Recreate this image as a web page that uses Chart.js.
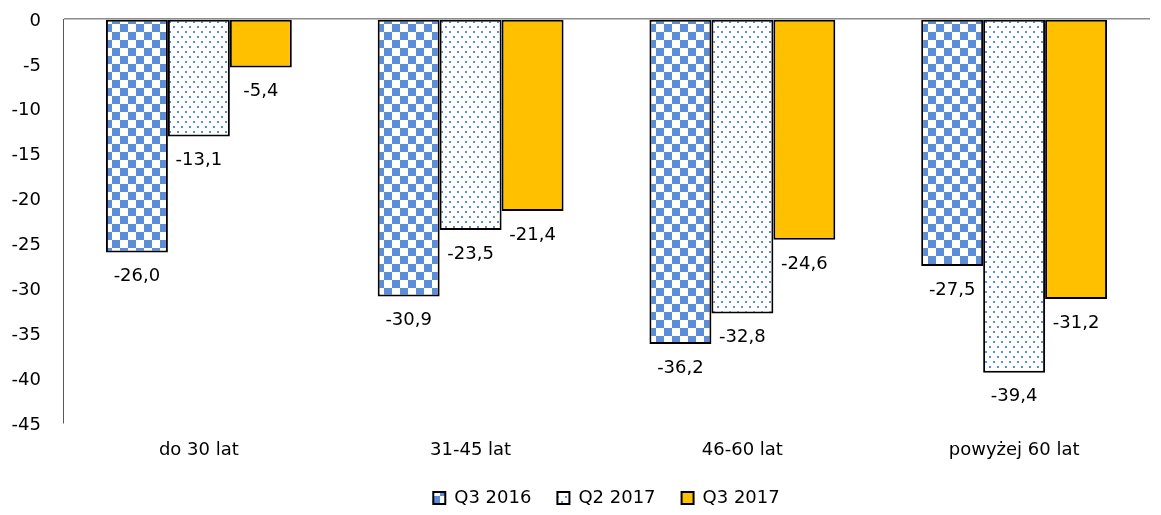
<!DOCTYPE html>
<html>
<head>
<meta charset="utf-8">
<script src="https://cdn.jsdelivr.net/npm/chart.js@4.4.0/dist/chart.umd.min.js"></script>
<style>
html,body{margin:0;padding:0;background:#fff;}
#wrap{width:1161px;height:515px;position:relative;}
</style>
</head>
<body>
<div id="wrap"><canvas id="c" width="1161" height="515"></canvas></div>
<script>
const categories = ['do 30 lat', '31-45 lat', '46-60 lat', 'powyżej 60 lat'];
const seriesNames = ['Q3 2016', 'Q2 2017', 'Q3 2017'];
const q3_2016 = [-26.0, -30.9, -36.2, -27.5];
const q2_2017 = [-13.1, -23.5, -32.8, -39.4];
const q3_2017 = [-5.4, -21.4, -24.6, -31.2];
const yTicks = [0, -5, -10, -15, -20, -25, -30, -35, -40, -45];

const FONT = '"DejaVu Sans", sans-serif';
const BLUE = '#5B8ED7';

function checkerPattern() {
  const c = document.createElement('canvas');
  c.width = 16; c.height = 16;
  const g = c.getContext('2d');
  g.fillStyle = '#fff'; g.fillRect(0, 0, 16, 16);
  g.fillStyle = BLUE;
  g.fillRect(0, 0, 8, 8);
  g.fillRect(8, 8, 8, 8);
  return g.createPattern(c, 'repeat');
}
function dotPattern() {
  const c = document.createElement('canvas');
  c.width = 8; c.height = 10;
  const g = c.getContext('2d');
  g.fillStyle = '#fff'; g.fillRect(0, 0, 8, 10);
  g.fillStyle = '#A9C4EC';
  g.fillRect(0, 0, 4, 4);
  g.fillRect(4, 5, 4, 4);
  g.fillStyle = '#fff';
  g.fillRect(0, 0, 4, 1); g.fillRect(0, 3, 4, 1); g.fillRect(0, 0, 1, 4); g.fillRect(3, 0, 1, 4);
  g.fillRect(4, 5, 4, 1); g.fillRect(4, 8, 4, 1); g.fillRect(4, 5, 1, 4); g.fillRect(7, 5, 1, 4);
  g.fillStyle = BLUE;
  g.fillRect(1, 1, 2, 2);
  g.fillRect(5, 6, 2, 2);
  return g.createPattern(c, 'repeat');
}

const labelPlugin = {
  id: 'barLabels',
  afterDatasetsDraw(chart) {
    const ctx = chart.ctx;
    ctx.save();
    ctx.font = '18px ' + FONT;
    ctx.fillStyle = '#000';
    ctx.textAlign = 'center';
    ctx.textBaseline = 'middle';
    chart.data.datasets.forEach((ds, i) => {
      const meta = chart.getDatasetMeta(i);
      meta.data.forEach((bar, j) => {
        const v = ds.data[j];
        ctx.fillText(v.toFixed(1).replace('.', ','), bar.x, bar.y + 24);
      });
    });
    ctx.restore();
  }
};

// widen the gap between legend entries without changing legend height
const legendSpacing = {
  id: 'legendSpacing',
  beforeDraw(chart) {
    const lg = chart.legend;
    if (!lg || lg._spaced) return;
    const extra = 14;
    const p = lg.options.labels.padding;
    lg.options.labels.padding = p + extra;
    lg.lineWidths = lg.lineWidths.map(w => w + extra * lg.legendItems.length);
    lg.top -= (extra - 2);
    lg._spaced = true;
  }
};

new Chart(document.getElementById('c'), {
  type: 'bar',
  data: {
    labels: categories,
    datasets: [
      { label: seriesNames[0], data: q3_2016, backgroundColor: checkerPattern(), borderColor: '#000', borderWidth: 2, borderSkipped: false },
      { label: seriesNames[1], data: q2_2017, backgroundColor: dotPattern(), borderColor: '#000', borderWidth: 2, borderSkipped: false },
      { label: seriesNames[2], data: q3_2017, backgroundColor: '#FFC000', borderColor: '#000', borderWidth: 2, borderSkipped: false }
    ]
  },
  options: {
    responsive: false,
    animation: false,
    devicePixelRatio: 1,
    layout: { padding: { top: 19, right: 11, left: 0, bottom: 0 } },
    datasets: { bar: { categoryPercentage: 0.684, barPercentage: 1.0 } },
    plugins: {
      legend: {
        position: 'bottom',
        fullSize: false,
        labels: {
          font: { size: 18, family: FONT },
          color: '#000',
          boxWidth: 12,
          boxHeight: 12,
          padding: 12
        }
      },
      tooltip: { enabled: false }
    },
    scales: {
      x: {
        grid: { display: false },
        border: { display: false },
        ticks: { font: { size: 18, family: FONT }, color: '#000', padding: 9 },
        afterFit(s) { s.height = 52; s.paddingLeft = 0; s.paddingRight = 0; }
      },
      y: {
        min: -45,
        max: 0,
        afterBuildTicks(s) { s.ticks = yTicks.map(v => ({ value: v })); },
        grid: {
          drawTicks: false,
          color: (c) => (c.tick && c.tick.value === 0 ? '#8C8C8C' : 'rgba(0,0,0,0)'),
          lineWidth: 1.5
        },
        border: { display: true, color: '#595959', width: 1 },
        ticks: {
          font: { size: 18, family: FONT },
          color: '#000',
          padding: 22,
          labelOffset: 2,
          callback: (v) => String(v)
        },
        afterFit(s) { s.width = 63; s.paddingTop = 0; s.paddingBottom = 0; }
      }
    }
  },
  plugins: [labelPlugin, legendSpacing]
});
</script>
</body>
</html>
